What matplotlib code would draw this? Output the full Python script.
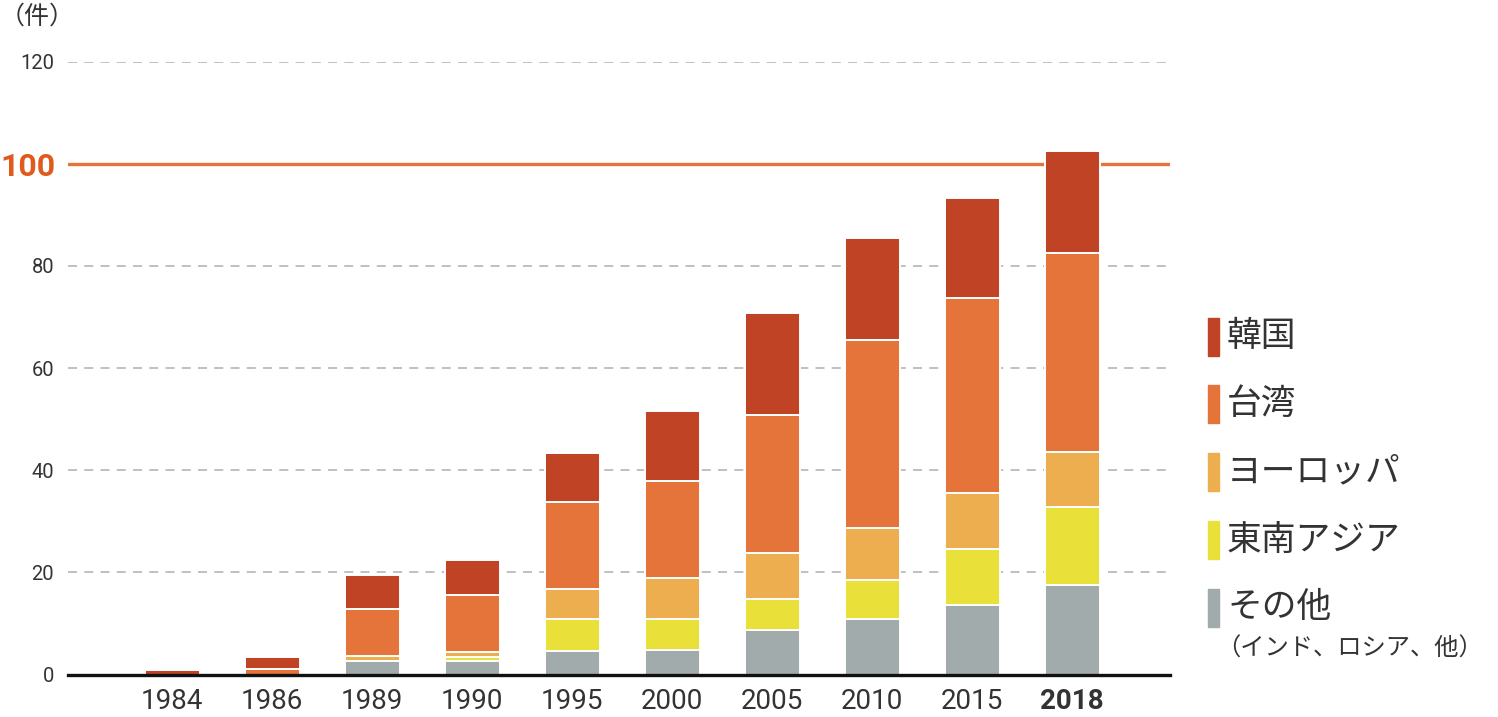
import matplotlib
matplotlib.use('Agg')
import matplotlib.pyplot as plt
from matplotlib.patches import Rectangle

# stacked counts per year
years = ['1984', '1986', '1989', '1990', '1995', '2000', '2005', '2010', '2015', '2018']
other = [0, 0, 2.6, 2.6, 4.6, 4.7, 8.7, 10.8, 13.6, 17.6]
seasia = [0, 0, 0, 0.9, 6.2, 6.2, 6.0, 7.8, 11.0, 15.2]
europe = [0, 0, 1.0, 1.0, 6.0, 7.9, 9.1, 10.1, 11.0, 10.7]
taiwan = [0, 1.0, 9.2, 11.0, 16.9, 19.1, 27.0, 36.8, 38.1, 39.0]
korea = [0.8, 2.5, 6.7, 7.0, 9.7, 13.7, 20.0, 19.9, 19.6, 20.0]
yticks = [0, 20, 40, 60, 80, 100, 120]
mark = 100

names = ['その他', '東南アジア', 'ヨーロッパ', '台湾', '韓国']
colors = ['#a2abac', '#e9e03a', '#ecae4f', '#e47439', '#c04326']
series = [other, seasia, europe, taiwan, korea]

cjk = ['Noto Sans CJK JP', 'DejaVu Sans']
num = ['Roboto', 'DejaVu Sans']
txt = '#333333'

W, H = 1498, 717
fig = plt.figure(figsize=(W/100, H/100), dpi=100)
x0, x1, yb, yt = 68, 1170, 674.5, 61.7
ax = fig.add_axes([x0/W, (H-yb)/H, (x1-x0)/W, (yb-yt)/H])

xs = range(len(years))
bottom = [0.0]*len(years)
for vals, c in zip(series, colors):
  for i, v in enumerate(vals):
    if v > 0:
      ax.bar(i, v, bottom=bottom[i], width=0.55, color=c, edgecolor='white', linewidth=1.4, zorder=3)
  bottom = [b+v for b, v in zip(bottom, vals)]

for t in yticks[1:]:
  if t == mark:
    ax.axhline(t, color='#e5733a', lw=2.4, zorder=2)
  else:
    ax.axhline(t, color='#bbbbbb', lw=1.3, ls=(0, (5, 4)), zorder=1)

ax.set_xlim(-1.04, 9.98)
ax.set_ylim(0, 120)
for s in ('top', 'right', 'left'):
  ax.spines[s].set_visible(False)
ax.spines['bottom'].set_linewidth(2.4)
ax.spines['bottom'].set_color('#111111')
ax.spines['bottom'].set_zorder(5)

ax.set_xticks(list(xs))
ax.set_xticklabels(years, family=num, fontsize=20, color=txt)
ax.get_xticklabels()[-1].set_fontweight('bold')
ax.tick_params(axis='x', length=0, pad=10)
ax.set_yticks(yticks)
ax.set_yticklabels(['' if t == mark else str(t) for t in yticks], family=num, fontsize=14.5, color=txt)
ax.tick_params(axis='y', length=0, pad=10)
# the highlighted 100 label
ax.text(-68/(x1-x0), mark, str(mark), transform=ax.get_yaxis_transform(), family=num, fontsize=23,
        fontweight='bold', color='#e05a1e', ha='left', va='center_baseline')

fig.text(0/W, 1-17/H, '（件）', family=cjk, fontsize=18, color=txt, ha='left', va='center')

# legend drawn by hand on the right
rows_y = [608, 540, 472, 404, 337]
for name, c, ry in zip(names, colors, rows_y):
  fig.patches.append(Rectangle((1208/W, 1-(ry+19)/H), 10.5/W, 38/H, transform=fig.transFigure, color=c))
  fig.text(1227/W, 1-ry/H, name, family=cjk, fontsize=25, color=txt, ha='left', va='center')
fig.text(1216/W, 1-649/H, '（インド、ロシア、他）', family=cjk, fontsize=17.5, color=txt, ha='left', va='center')

fig.savefig('out.png', dpi=100)
